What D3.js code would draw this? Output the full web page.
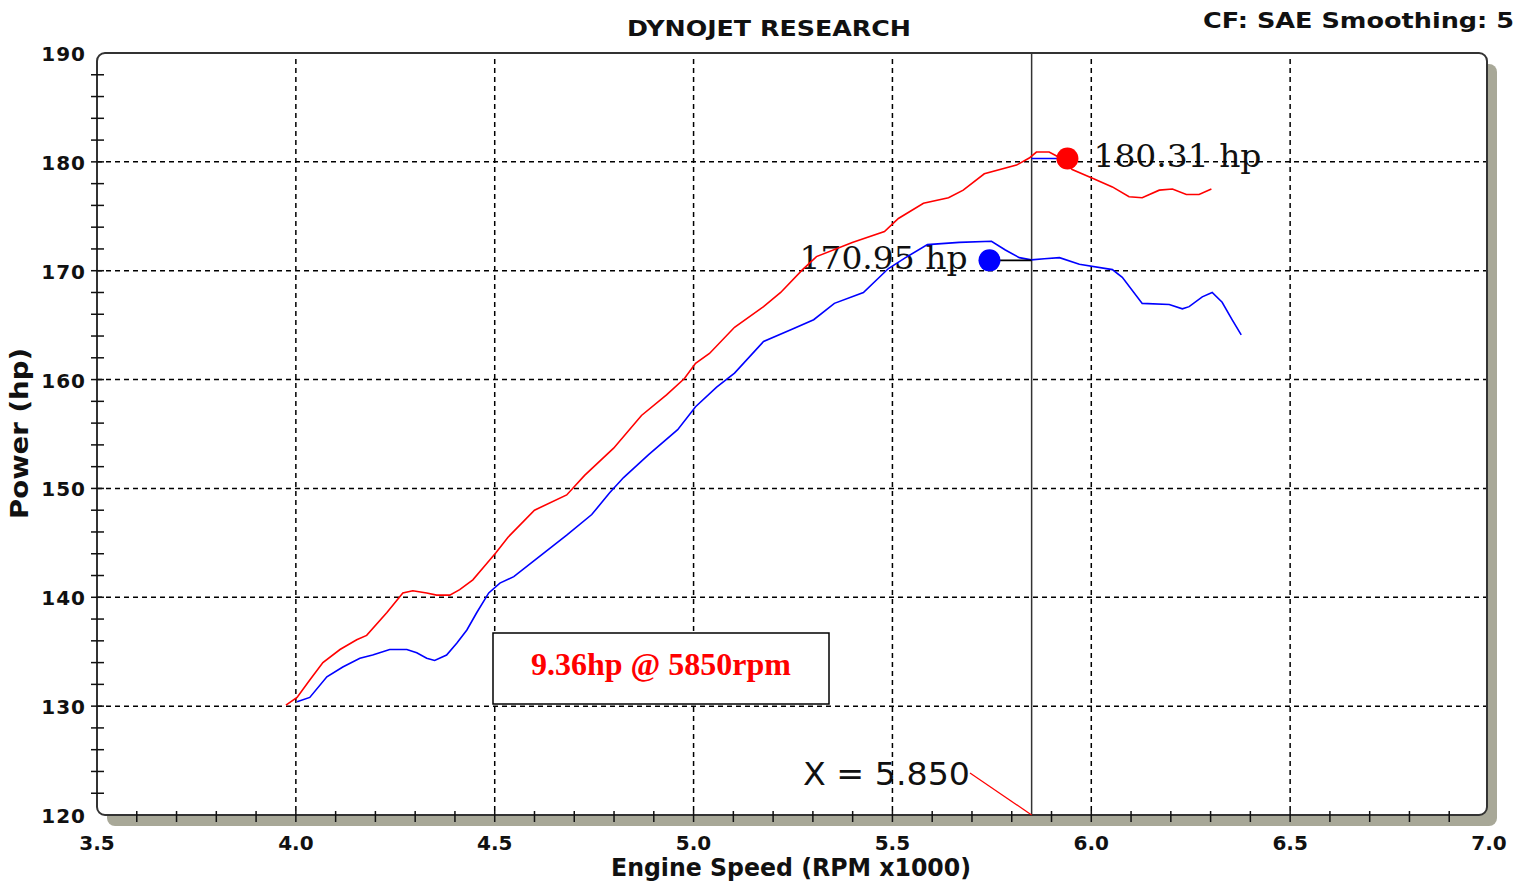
<!DOCTYPE html>
<html><head><meta charset="utf-8">
<script src="https://cdn.jsdelivr.net/npm/d3@7"></script>
<style>body{margin:0;background:#fff;} svg{display:block;}</style>
</head><body><svg id="c" width="1531" height="886"></svg>
<script>
// ---- data ----
const xTickLabels = ["3.5","4.0","4.5","5.0","5.5","6.0","6.5","7.0"];
const xTickValues = [3.5,4.0,4.5,5.0,5.5,6.0,6.5,7.0];
const yTickValues = [120,130,140,150,160,170,180,190];
const yTickLabels = ["120","130","140","150","160","170","180","190"];

const redRpm = [3.975,4.003,4.035,4.068,4.111,4.153,4.178,4.229,4.269,4.294,4.329,4.354,4.387,4.412,4.445,4.480,4.503,4.533,4.600,4.681,4.726,4.799,4.869,4.932,4.977,5.005,5.040,5.103,5.176,5.219,5.274,5.309,5.399,5.480,5.515,5.578,5.641,5.678,5.731,5.812,5.844,5.862,5.894,5.920,5.952,6.003,6.053,6.095,6.128,6.171,6.204,6.239,6.271,6.302];
const redHp  = [130.1,130.8,132.4,134.0,135.2,136.1,136.5,138.6,140.4,140.6,140.4,140.2,140.2,140.7,141.6,143.1,144.1,145.5,148.0,149.4,151.2,153.7,156.7,158.6,160.1,161.5,162.4,164.8,166.7,168.0,170.1,171.3,172.6,173.6,174.8,176.2,176.7,177.4,178.9,179.7,180.35,180.9,180.9,180.4,179.3,178.5,177.7,176.8,176.7,177.4,177.5,177.0,177.0,177.5];

const blueRpm = [4.003,4.035,4.078,4.118,4.161,4.193,4.236,4.279,4.304,4.329,4.349,4.379,4.405,4.430,4.455,4.485,4.513,4.548,4.600,4.681,4.744,4.789,4.824,4.887,4.960,5.005,5.058,5.103,5.176,5.246,5.302,5.354,5.427,5.490,5.533,5.588,5.668,5.749,5.784,5.819,5.849,5.882,5.920,5.970,6.053,6.078,6.128,6.196,6.229,6.246,6.279,6.304,6.329,6.354,6.377];
const blueHp  = [130.4,130.8,132.7,133.6,134.4,134.7,135.2,135.2,134.9,134.4,134.2,134.7,135.8,137.0,138.6,140.4,141.3,141.9,143.4,145.7,147.6,149.6,151.0,153.1,155.4,157.5,159.3,160.6,163.5,164.6,165.5,167.0,168.0,170.2,171.2,172.4,172.6,172.7,171.9,171.2,171.0,171.1,171.2,170.6,170.1,169.4,167.0,166.9,166.5,166.7,167.6,168.0,167.1,165.5,164.1];

const markerRpm = [5.94, 5.744];
const markerHp = [180.31, 170.95];
const markerLabels = ["180.31 hp", "170.95 hp"];
const markerColors = ["#ff0000", "#0000ff"];
const cursorRpm = 5.85;
const diffText = "9.36hp @ 5850rpm";
const cursorText = "X = 5.850";
const titleText = "DYNOJET RESEARCH";
const cfText = "CF: SAE  Smoothing: 5";
const xTitle = "Engine Speed (RPM x1000)";
const yTitle = "Power (hp)";

// ---- drawing ----
const svg = d3.select("#c");
const L = 97, R = 1487, T = 53, B = 815;
const x = d3.scaleLinear().domain([3.5, 7.0]).range([97, 1489]);
const y = d3.scaleLinear().domain([120, 190]).range([B, T]);

// shadow
svg.append("rect").attr("x", L + 10).attr("y", T + 11).attr("width", R - L).attr("height", B - T)
  .attr("rx", 8).attr("fill", "#a8a898");
// frame bg
svg.append("rect").attr("x", L).attr("y", T).attr("width", R - L).attr("height", B - T)
  .attr("rx", 8).attr("fill", "#fff");

// labels beneath grid
const sansB = "'DejaVu Sans', Verdana, sans-serif";
markerLabels.forEach((t, i) => {
  const tx = i === 0 ? x(markerRpm[0]) + 26 : x(markerRpm[1]) - 190;
  svg.append("text").attr("x", tx).attr("y", y(markerHp[i]) + 9)
    .attr("font-family", "'DejaVu Serif', serif").attr("font-size", 32)
    .attr("textLength", 168).attr("lengthAdjust", "spacingAndGlyphs")
    .attr("fill", "#111").text(t);
});
const cx0 = 803, cy0 = 785;
svg.append("text").attr("x", cx0).attr("y", cy0)
  .attr("font-family", "'DejaVu Sans', sans-serif").attr("font-size", 32)
  .attr("textLength", 167).attr("lengthAdjust", "spacingAndGlyphs")
  .attr("fill", "#111").text(cursorText);

// grid
const grid = svg.append("g").attr("stroke", "#000").attr("stroke-width", 1.5).attr("stroke-dasharray", "5,4");
grid.selectAll("line.h").data(yTickValues.filter(v => v > 120 && v < 190)).join("line")
  .attr("x1", L).attr("x2", R).attr("y1", d => y(d)).attr("y2", d => y(d));
grid.selectAll("line.v").data(xTickValues.filter(v => v > 3.5 && v < 7.0)).join("line")
  .attr("class", "v").attr("y1", T + 6).attr("y2", B).attr("x1", d => x(d)).attr("x2", d => x(d));

// annotation box
svg.append("rect").attr("x", 493).attr("y", 633).attr("width", 336).attr("height", 71)
  .attr("fill", "#fff").attr("stroke", "#000").attr("stroke-width", 1.5);
svg.append("text").attr("x", 661).attr("y", 675).attr("text-anchor", "middle")
  .attr("font-family", "'Liberation Serif', 'Times New Roman', serif").attr("font-weight", "bold")
  .attr("font-size", 32).attr("fill", "#ff0000").text(diffText);

// frame stroke
svg.append("rect").attr("x", L).attr("y", T).attr("width", R - L).attr("height", B - T)
  .attr("rx", 8).attr("fill", "none").attr("stroke", "#333").attr("stroke-width", 2);

// ticks
const tk = svg.append("g").attr("stroke", "#111").attr("stroke-width", 1.5);
const xMinor = d3.range(36).map(i => 3.5 + i * 0.1).filter(v => v > 3.55 && v < 6.95);
tk.selectAll("line.xm").data(xMinor).join("line").attr("class", "xm")
  .attr("x1", d => x(d)).attr("x2", d => x(d)).attr("y1", B - 4).attr("y2", B + 7);
const yMinor = d3.range(36).map(i => 120 + i * 2).filter(v => v > 121 && v < 189);
tk.selectAll("line.ym").data(yMinor).join("line").attr("class", "ym")
  .attr("x1", L - 6).attr("x2", L + 7).attr("y1", d => y(d)).attr("y2", d => y(d));

// cursor line
svg.append("line").attr("x1", x(cursorRpm)).attr("x2", x(cursorRpm)).attr("y1", T).attr("y2", B)
  .attr("stroke", "#333").attr("stroke-width", 1.5);

// curves
const line = d3.line().x(d => x(d[0])).y(d => y(d[1]));
svg.append("path").datum(redRpm.map((r, i) => [r, redHp[i]])).attr("d", line)
  .attr("fill", "none").attr("stroke", "#ff0000").attr("stroke-width", 1.6);
svg.append("path").datum(blueRpm.map((r, i) => [r, blueHp[i]])).attr("d", line)
  .attr("fill", "none").attr("stroke", "#0000ff").attr("stroke-width", 1.6);

// connector segments
svg.append("line").attr("x1", x(cursorRpm)).attr("x2", x(markerRpm[0])).attr("y1", y(markerHp[0])).attr("y2", y(markerHp[0]))
  .attr("stroke", "#0000ff").attr("stroke-width", 1.6);
svg.append("line").attr("x1", x(markerRpm[1])).attr("x2", x(cursorRpm)).attr("y1", y(markerHp[1])).attr("y2", y(markerHp[1]))
  .attr("stroke", "#000").attr("stroke-width", 1.6);

// markers
markerRpm.forEach((r, i) => {
  svg.append("circle").attr("cx", x(r)).attr("cy", y(markerHp[i])).attr("r", 11).attr("fill", markerColors[i]);
});

// red pointer from cursor label to axis
svg.append("line").attr("x1", cx0 + 167).attr("y1", cy0 - 12).attr("x2", x(cursorRpm)).attr("y2", B)
  .attr("stroke", "#ff0000").attr("stroke-width", 1.2);

// tick labels
svg.selectAll("text.xl").data(xTickValues).join("text").attr("class", "xl")
  .attr("x", d => x(d)).attr("y", 850).attr("text-anchor", "middle")
  .attr("font-family", sansB).attr("font-weight", "bold").attr("font-size", 20).attr("fill", "#111")
  .text((d, i) => xTickLabels[i]);
svg.selectAll("text.yl").data(yTickValues).join("text").attr("class", "yl")
  .attr("x", 86).attr("y", d => y(d) + 8).attr("text-anchor", "end")
  .attr("font-family", sansB).attr("font-weight", "bold").attr("font-size", 20).attr("letter-spacing", 1).attr("fill", "#111")
  .text((d, i) => yTickLabels[i]);

// titles
svg.append("text").attr("x", 627).attr("y", 36).attr("font-family", sansB).attr("font-weight", "bold")
  .attr("font-size", 22).attr("textLength", 284).attr("lengthAdjust", "spacingAndGlyphs").attr("fill", "#111").text(titleText);
svg.append("text").attr("x", 1203).attr("y", 28).attr("font-family", sansB).attr("font-weight", "bold")
  .attr("font-size", 22).attr("textLength", 311).attr("lengthAdjust", "spacingAndGlyphs").attr("fill", "#111").text(cfText);
svg.append("text").attr("x", 611).attr("y", 876).attr("font-family", sansB).attr("font-weight", "bold")
  .attr("font-size", 25).attr("textLength", 360).attr("lengthAdjust", "spacingAndGlyphs").attr("fill", "#111").text(xTitle);
svg.append("text").attr("transform", "translate(28,519) rotate(-90)").attr("font-family", sansB).attr("font-weight", "bold")
  .attr("font-size", 24).attr("textLength", 171).attr("lengthAdjust", "spacingAndGlyphs").attr("fill", "#111").text(yTitle);
</script></body></html>
